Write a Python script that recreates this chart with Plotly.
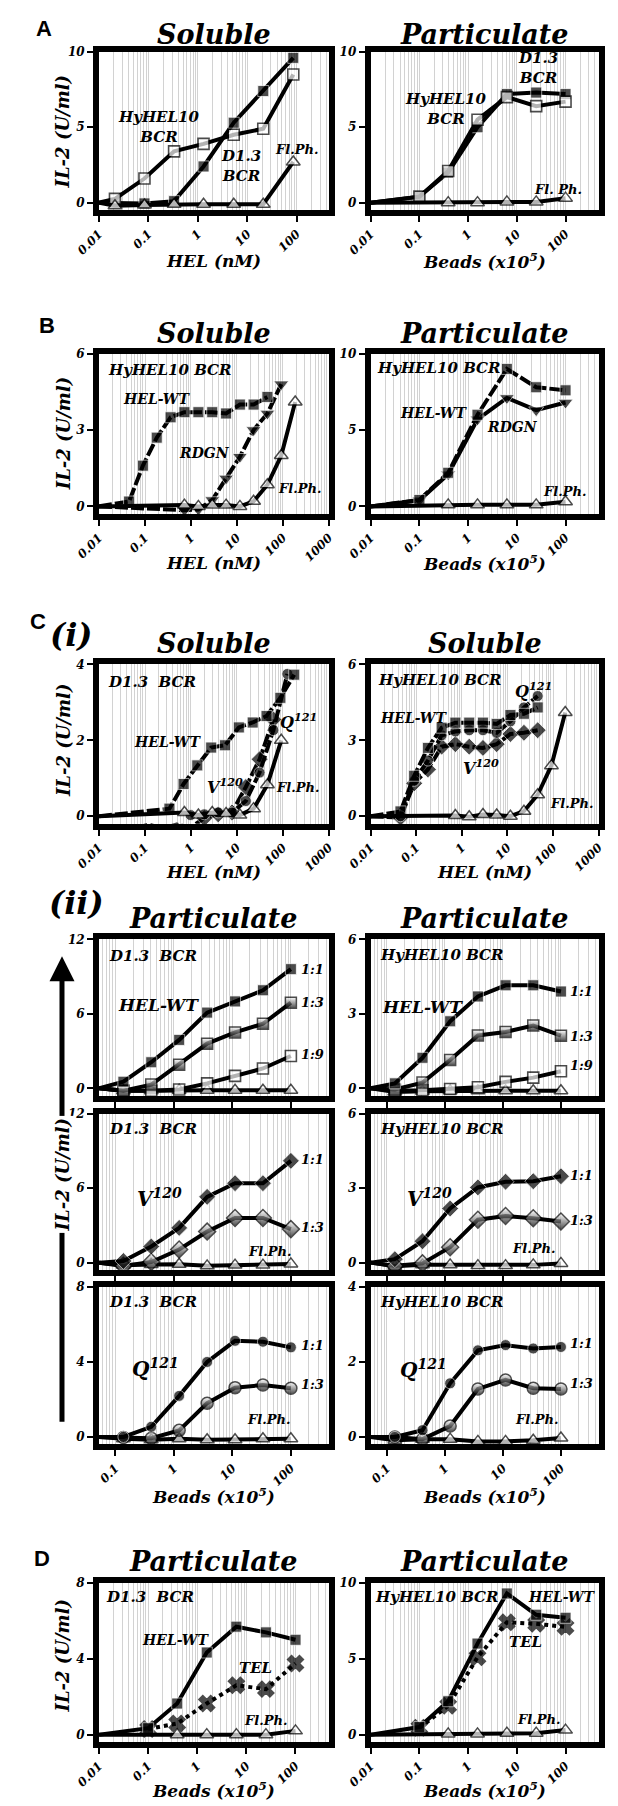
import numpy as np
import plotly.graph_objects as go

W, H = 618, 1806
SERIF = "DejaVu Serif"
SANS = "Liberation Sans"
GRID = "#d2d2d2"
BASE = 0.0  # unstimulated background (no antigen), drawn at the axis' left edge

# ===================== DATA =====================
# ---- A : soluble HEL (nM), 4-fold dilutions ----
A_SOL_HEL = [0.021, 0.083, 0.33, 1.3, 5.3, 21, 85]
A_SOL_D13 = [0.0, -0.05, 0.1, 2.4, 5.3, 7.4, 9.6]
A_SOL_HY10 = [0.25, 1.6, 3.4, 3.9, 4.5, 4.9, 8.5]
A_SOL_FLPH = [-0.2, -0.15, -0.1, -0.1, -0.1, -0.1, 2.7]
# ---- beads (x10^5), 4-fold dilutions ----
BEADS_4X = [0.1, 0.39, 1.56, 6.25, 25, 100]
BEADS_4X_FL = [0.39, 1.56, 6.25, 25, 100]
A_PAR_D13 = [0.4, 2.0, 5.0, 7.2, 7.3, 7.2]
A_PAR_HY10 = [0.4, 2.1, 5.5, 7.0, 6.4, 6.7]
A_PAR_FLPH = [0.0, 0.0, 0.05, 0.05, 0.3]
# ---- B : HyHEL10 BCR ----
HEL_2X_WT = [0.045, 0.09, 0.18, 0.36, 0.72, 1.45, 2.9, 5.8, 11.6, 23, 46]
HEL_2X_RDGN = [0.72, 1.45, 2.9, 5.8, 11.6, 23, 46, 92]
HEL_2X_FL = [0.72, 1.45, 2.9, 5.8, 11.6, 23, 46, 92, 185]
B_SOL_WT = [0.19, 1.6, 2.7, 3.5, 3.7, 3.7, 3.7, 3.65, 4.0, 4.0, 4.3]
B_SOL_RDGN = [-0.15, -0.12, 0.25, 1.1, 1.95, 3.0, 3.65, 4.8]
B_SOL_FLPH = [0.05, 0.0, 0.05, 0.05, 0.0, 0.2, 0.85, 2.0, 4.1]
B_PAR_WT = [0.42, 2.2, 6.0, 9.0, 7.8, 7.6]
B_PAR_RDGN = [0.4, 2.1, 5.7, 7.1, 6.3, 6.8]
B_PAR_FLPH = [0.1, 0.1, 0.1, 0.1, 0.3]
# ---- C(i) : soluble ----
HEL_2X_WT_D13 = [0.34, 0.69, 1.37, 2.75, 5.5, 11, 22, 44, 88, 176]
HEL_2X_Q_D13 = [0.98, 1.95, 3.9, 7.8, 15.6, 31, 62, 125]
HEL_2X_V_D13 = [0.06, 0.12, 0.24, 0.49, 0.98, 1.95, 3.9, 7.8, 15.6, 31, 62]
CI_D13_WT = [0.2, 0.85, 1.34, 1.81, 1.87, 2.34, 2.47, 2.64, 3.12, 3.73]
CI_D13_Q121 = [0.03, 0.05, 0.1, 0.1, 0.4, 1.15, 2.27, 3.75]
CI_D13_V120 = [-0.32, -0.22, -0.32, -0.22, -0.3, -0.05, 0.05, 0.1, 0.77, 1.5, 2.55]
CI_D13_FLPH = [0.1, 0.03, 0.1, 0.07, 0.03, 0.2, 0.83, 2.0]
CI_HY_WT = [0.19, 1.6, 2.7, 3.5, 3.7, 3.7, 3.7, 3.65, 4.0, 4.05, 4.3]
CI_HY_Q121 = [0.0, 1.4, 2.2, 3.2, 3.35, 3.4, 3.4, 3.3, 3.75, 4.3, 4.75]
CI_HY_V120 = [-0.05, 1.3, 1.85, 2.75, 2.85, 2.75, 2.7, 2.85, 3.25, 3.3, 3.4]
CI_HY_FLPH = [0.03, -0.02, 0.07, 0.05, 0.0, 0.2, 0.85, 2.0, 4.1]
# ---- C(ii) : particulate, 3-fold bead dilutions ----
BEADS_3X = [0.137, 0.41, 1.23, 3.7, 11.1, 33.3, 100]
WT_D13_11 = [0.53, 2.1, 3.9, 6.1, 7.0, 7.9, 9.6]
WT_D13_13 = [-0.2, 0.3, 1.9, 3.6, 4.5, 5.2, 6.9]
WT_D13_19 = [-0.2, -0.2, -0.1, 0.4, 1.0, 1.6, 2.6]
WT_D13_FL = [-0.2, -0.2, -0.15, -0.15, -0.15, -0.15, -0.15]
WT_HY_11 = [0.2, 1.23, 2.7, 3.7, 4.15, 4.15, 3.9]
WT_HY_13 = [-0.05, 0.23, 1.14, 2.13, 2.27, 2.53, 2.12]
WT_HY_19 = [-0.1, -0.08, -0.03, 0.04, 0.26, 0.43, 0.69]
WT_HY_FL = [-0.15, -0.12, -0.1, -0.1, -0.1, -0.1, -0.1]
V_D13_11 = [0.13, 1.3, 2.8, 5.3, 6.4, 6.4, 8.2]
V_D13_13 = [-0.26, 0.05, 1.06, 2.5, 3.6, 3.6, 2.7]
V_D13_FL = [-0.2, -0.15, -0.13, -0.26, -0.2, -0.2, -0.1]
V_HY_11 = [0.14, 0.86, 2.18, 3.03, 3.26, 3.28, 3.48]
V_HY_13 = [-0.13, -0.03, 0.62, 1.73, 1.88, 1.79, 1.66]
V_HY_FL = [-0.15, -0.09, -0.09, -0.12, -0.12, -0.09, -0.03]
Q_D13_11 = [0.0, 0.54, 2.19, 4.0, 5.13, 5.08, 4.78]
Q_D13_13 = [-0.03, -0.07, 0.35, 1.8, 2.63, 2.77, 2.6]
Q_D13_FL = [-0.1, -0.15, -0.1, -0.15, -0.15, -0.1, -0.1]
Q_HY_11 = [0.0, 0.18, 1.43, 2.31, 2.45, 2.36, 2.4]
Q_HY_13 = [0.0, -0.06, 0.29, 1.28, 1.52, 1.3, 1.28]
Q_HY_FL = [-0.09, -0.06, -0.06, -0.12, -0.12, -0.09, -0.03]
# ---- D : TEL ----
D_D13_WT = [0.34, 1.64, 4.33, 5.69, 5.39, 5.0]
D_D13_TEL = [0.3, 0.59, 1.64, 2.6, 2.4, 3.75]
D_D13_FL = [0.0, 0.0, 0.0, 0.0, 0.2]
D_HY_WT = [0.5, 2.2, 6.0, 9.3, 7.9, 7.7]
D_HY_TEL = [0.45, 1.9, 5.1, 7.4, 7.3, 7.1]
D_HY_FL = [0.05, 0.05, 0.1, 0.1, 0.3]

TICKS_4 = [0.1, 1, 10, 100]
TICKS_5 = [0.01, 0.1, 1, 10, 100]
TICKS_6 = [0.01, 0.1, 1, 10, 100, 1000]
TICK_TEXT = {0.01: "0.01", 0.1: "0.1", 1: "1", 10: "10", 100: "100", 1000: "1000"}

# ===================== LAYOUT =====================
fig = go.Figure()
layout = dict(width=W, height=H, margin=dict(l=0, r=0, t=0, b=0),
              paper_bgcolor="white", plot_bgcolor="white", showlegend=False)
annotations = []

COLS = {"L": (79, 321), "R": (365, 605)}
ROWS = {"A": (45, 204), "B": (348, 509), "Ci": (660, 820), "C1": (936, 1093),
        "C2": (1111, 1268), "C3": (1285, 1443), "D": (1582, 1742)}
XR = {}


def tf(size):
    return dict(family=SERIF, size=size, color="black", weight="bold", style="italic")


def sfx(k):
    return "" if k == 1 else str(k)


def make_panel(k, col, row, xr, xticks, ymax, yticks, xlabels=True):
    s = sfx(k)
    x0, x1 = COLS[col]
    y0, y1 = ROWS[row]
    XR[k] = xr
    minor = [m * 10.0 ** d for d in range(-3, 4) for m in range(2, 10)
             if xr[0] < np.log10(m * 10.0 ** d) < xr[1]]
    layout["xaxis" + s] = dict(
        type="log", domain=[x0 / W, x1 / W], range=xr, anchor="y" + s,
        showline=True, mirror=True, linewidth=6, linecolor="black",
        ticks="outside", ticklen=6, tickwidth=2, tickcolor="black",
        tickmode="array", tickvals=xticks, ticktext=[TICK_TEXT[v] for v in xticks],
        tickangle=-45, showticklabels=xlabels, tickfont=tf(12),
        showgrid=True, gridcolor=GRID, gridwidth=1,
        minor=dict(tickmode="array", tickvals=minor, showgrid=True,
                   gridcolor=GRID, gridwidth=1, ticks=""),
        zeroline=False, fixedrange=True)
    layout["yaxis" + s] = dict(
        domain=[1 - y1 / H, 1 - y0 / H], range=[-0.05 * ymax, ymax], anchor="x" + s,
        showline=True, mirror=True, linewidth=6, linecolor="black",
        ticks="outside", ticklen=6, tickwidth=2, tickcolor="black",
        tickmode="array", tickvals=yticks, tickfont=tf(12),
        showgrid=False, zeroline=False, fixedrange=True)


CR = [-1.28, 2.65]
make_panel(1, "L", "A", [-2, 2.65], TICKS_5, 10, [0, 5, 10])
make_panel(2, "R", "A", [-2, 2.68], TICKS_5, 10, [0, 5, 10])
make_panel(3, "L", "B", [-2, 3], TICKS_6, 6, [0, 3, 6])
make_panel(4, "R", "B", [-2, 2.68], TICKS_5, 10, [0, 5, 10])
make_panel(5, "L", "Ci", [-2, 3], TICKS_6, 4, [0, 2, 4])
make_panel(6, "R", "Ci", [-2, 3], TICKS_6, 6, [0, 3, 6])
make_panel(7, "L", "C1", CR, TICKS_4, 12, [0, 6, 12], False)
make_panel(8, "R", "C1", CR, TICKS_4, 6, [0, 3, 6], False)
make_panel(9, "L", "C2", CR, TICKS_4, 12, [0, 6, 12], False)
make_panel(10, "R", "C2", CR, TICKS_4, 6, [0, 3, 6], False)
make_panel(11, "L", "C3", CR, TICKS_4, 8, [0, 4, 8])
make_panel(12, "R", "C3", CR, TICKS_4, 4, [0, 2, 4])
make_panel(13, "L", "D", [-2, 2.68], TICKS_5, 8, [0, 4, 8])
make_panel(14, "R", "D", [-2, 2.68], TICKS_5, 10, [0, 5, 10])

# ---- marker styles ----
FILLED_SQ = dict(symbol="square", color="black", line=dict(color="white", width=0.8), size=11)
OPEN_SQ = dict(symbol="square", color="white", line=dict(color="black", width=1.6), size=11)
HALF_SQ = dict(symbol="square", color="white", line=dict(color="black", width=1.5), size=11,
               gradient=dict(type="vertical", color="black"))
OPEN_TRI = dict(symbol="triangle-up", color="white", line=dict(color="black", width=1.5), size=12)
INV_TRI = dict(symbol="triangle-down", color="black", line=dict(color="white", width=0.8), size=13)
DIAMOND = dict(symbol="diamond", color="black", line=dict(color="white", width=0.8), size=13)
HALF_DIA = dict(symbol="diamond", color="white", line=dict(color="black", width=1.5), size=13,
                gradient=dict(type="vertical", color="black"))
CIRCLE = dict(symbol="circle", color="black", line=dict(color="white", width=0.8), size=11)
HALF_CIR = dict(symbol="circle", color="white", line=dict(color="black", width=1.5), size=12,
                gradient=dict(type="vertical", color="black"))
CROSS = dict(symbol="x", color="black", line=dict(color="black", width=1.5), size=14)
DASH = "13px,3px"


def add(k, x, y, mk, dash="solid", lead=True, lw=4):
    s = sfx(k)
    xs, ys = list(x), list(y)
    sizes = [mk["size"]] * len(xs)
    if lead:
        xs = [10 ** XR[k][0]] + xs
        ys = [BASE] + ys
        sizes = [0] + sizes
    m = dict(mk)
    m["size"] = sizes
    fig.add_trace(go.Scatter(x=xs, y=ys, xaxis="x" + s, yaxis="y" + s, mode="lines+markers",
                             line=dict(color="black", width=lw, dash=dash), marker=m,
                             cliponaxis=False, hoverinfo="skip"))


# A
add(1, A_SOL_HEL, A_SOL_D13, FILLED_SQ)
add(1, A_SOL_HEL, A_SOL_HY10, OPEN_SQ)
add(1, A_SOL_HEL, A_SOL_FLPH, OPEN_TRI)
add(2, BEADS_4X, A_PAR_D13, FILLED_SQ)
add(2, BEADS_4X, A_PAR_HY10, OPEN_SQ)
add(2, BEADS_4X_FL, A_PAR_FLPH, OPEN_TRI)
# B
add(3, HEL_2X_RDGN, B_SOL_RDGN, INV_TRI, DASH)
add(3, HEL_2X_WT, B_SOL_WT, FILLED_SQ, DASH)
add(3, HEL_2X_FL, B_SOL_FLPH, OPEN_TRI)
add(4, BEADS_4X, B_PAR_RDGN, INV_TRI)
add(4, BEADS_4X, B_PAR_WT, FILLED_SQ, DASH)
add(4, BEADS_4X_FL, B_PAR_FLPH, OPEN_TRI)
# C(i)
add(5, HEL_2X_V_D13, CI_D13_V120, DIAMOND, DASH, lead=False)
add(5, HEL_2X_Q_D13, CI_D13_Q121, CIRCLE, DASH, lead=False)
add(5, HEL_2X_WT_D13, CI_D13_WT, FILLED_SQ, DASH)
add(5, HEL_2X_FL, CI_D13_FLPH, OPEN_TRI)
add(6, HEL_2X_WT, CI_HY_V120, DIAMOND, DASH)
add(6, HEL_2X_WT, CI_HY_Q121, CIRCLE, DASH)
add(6, HEL_2X_WT, CI_HY_WT, FILLED_SQ, DASH)
add(6, HEL_2X_FL, CI_HY_FLPH, OPEN_TRI)
# C(ii)
add(7, BEADS_3X, WT_D13_FL, OPEN_TRI)
add(7, BEADS_3X, WT_D13_19, OPEN_SQ)
add(7, BEADS_3X, WT_D13_13, HALF_SQ)
add(7, BEADS_3X, WT_D13_11, FILLED_SQ)
add(8, BEADS_3X, WT_HY_FL, OPEN_TRI)
add(8, BEADS_3X, WT_HY_19, OPEN_SQ)
add(8, BEADS_3X, WT_HY_13, HALF_SQ)
add(8, BEADS_3X, WT_HY_11, FILLED_SQ)
add(9, BEADS_3X, V_D13_FL, OPEN_TRI)
add(9, BEADS_3X, V_D13_13, HALF_DIA)
add(9, BEADS_3X, V_D13_11, DIAMOND)
add(10, BEADS_3X, V_HY_FL, OPEN_TRI)
add(10, BEADS_3X, V_HY_13, HALF_DIA)
add(10, BEADS_3X, V_HY_11, DIAMOND)
add(11, BEADS_3X, Q_D13_FL, OPEN_TRI)
add(11, BEADS_3X, Q_D13_13, HALF_CIR)
add(11, BEADS_3X, Q_D13_11, CIRCLE)
add(12, BEADS_3X, Q_HY_FL, OPEN_TRI)
add(12, BEADS_3X, Q_HY_13, HALF_CIR)
add(12, BEADS_3X, Q_HY_11, CIRCLE)
# D
add(13, BEADS_4X, D_D13_TEL, CROSS, "dot", lead=False)
add(13, BEADS_4X, D_D13_WT, FILLED_SQ)
add(13, BEADS_4X_FL, D_D13_FL, OPEN_TRI)
add(14, BEADS_4X, D_HY_TEL, CROSS, "dot", lead=False)
add(14, BEADS_4X, D_HY_WT, FILLED_SQ)
add(14, BEADS_4X_FL, D_HY_FL, OPEN_TRI)


# ---- text ----
def lab(k, xv, yv, text, size=15, xanchor="center"):
    s = sfx(k)
    annotations.append(dict(x=float(np.log10(xv)), y=yv, xref="x" + s, yref="y" + s, text=text,
                            showarrow=False, font=tf(size), xanchor=xanchor, yanchor="middle"))


def ptext(xpx, ypx, text, font, angle=0, bg="rgba(0,0,0,0)"):
    annotations.append(dict(x=xpx / W, y=1 - ypx / H, xref="paper", yref="paper", text=text,
                            showarrow=False, font=font, textangle=angle, xanchor="center",
                            yanchor="middle", bgcolor=bg))


NB = "\u00a0"
lab(1, 0.16, 5.0, "HyHEL10<br>BCR")
lab(1, 7.6, 2.4, "D1.3<br>BCR")
lab(1, 100, 3.5, "Fl.Ph.", 13)
lab(2, 27, 8.9, "D1.3<br>BCR")
lab(2, 0.35, 6.2, "HyHEL10<br>BCR")
lab(2, 70, 0.9, "Fl. Ph.", 13)

lab(3, 0.35, 5.36, "HyHEL10 BCR")
lab(3, 0.18, 4.2, "HEL-WT", 14)
lab(3, 2.0, 2.1, "RDGN", 14)
lab(3, 230, 0.72, "Fl.Ph.", 13)
lab(4, 0.25, 9.05, "HyHEL10 BCR")
lab(4, 0.2, 6.1, "HEL-WT", 14)
lab(4, 8.3, 5.2, "RDGN", 14)
lab(4, 96, 0.95, "Fl.Ph.", 13)

lab(5, 0.145, 3.55, "D1.3" + NB + NB + "BCR")
lab(5, 0.32, 1.96, "HEL-WT", 14)
lab(5, 218, 2.5, "Q<sup>121</sup>", 16)
lab(5, 5.4, 0.8, "V<sup>120</sup>", 16)
lab(5, 210, 0.75, "Fl.Ph.", 13)
lab(6, 0.33, 5.4, "HyHEL10 BCR")
lab(6, 38, 5.0, "Q<sup>121</sup>", 16)
lab(6, 0.09, 3.9, "HEL-WT", 14)
lab(6, 2.6, 1.95, "V<sup>120</sup>", 16)
lab(6, 250, 0.5, "Fl.Ph.", 13)

lab(7, 0.44, 10.7, "D1.3" + NB + NB + "BCR")
lab(7, 0.55, 6.7, "HEL-WT", 17)
lab(7, 235, 9.6, "1:1", 13)
lab(7, 235, 6.9, "1:3", 13)
lab(7, 235, 2.7, "1:9", 13)
lab(8, 0.9, 5.37, "HyHEL10 BCR")
lab(8, 0.41, 3.27, "HEL-WT", 17)
lab(8, 230, 3.9, "1:1", 13)
lab(8, 230, 2.1, "1:3", 13)
lab(8, 230, 0.9, "1:9", 13)

lab(9, 0.44, 10.8, "D1.3" + NB + NB + "BCR")
lab(9, 0.57, 5.2, "V<sup>120</sup>", 20)
lab(9, 235, 8.3, "1:1", 13)
lab(9, 235, 2.85, "1:3", 13)
lab(9, 43, 0.9, "Fl.Ph.", 13)
lab(10, 0.9, 5.4, "HyHEL10 BCR")
lab(10, 0.55, 2.6, "V<sup>120</sup>", 20)
lab(10, 230, 3.5, "1:1", 13)
lab(10, 230, 1.7, "1:3", 13)
lab(10, 33, 0.55, "Fl.Ph.", 13)

lab(11, 0.44, 7.2, "D1.3" + NB + NB + "BCR")
lab(11, 0.48, 3.7, "Q<sup>121</sup>", 20)
lab(11, 235, 4.9, "1:1", 13)
lab(11, 235, 2.8, "1:3", 13)
lab(11, 41, 0.95, "Fl.Ph.", 13)
lab(12, 0.9, 3.6, "HyHEL10 BCR")
lab(12, 0.42, 1.82, "Q<sup>121</sup>", 20)
lab(12, 230, 2.5, "1:1", 13)
lab(12, 230, 1.43, "1:3", 13)
lab(12, 38, 0.47, "Fl.Ph.", 13)

lab(13, 0.11, 7.25, "D1.3" + NB + NB + "BCR")
lab(13, 0.37, 5.0, "HEL-WT", 14)
lab(13, 15, 3.5, "TEL", 15)
lab(13, 25, 0.75, "Fl.Ph.", 13)
lab(14, 0.23, 9.05, "HyHEL10 BCR")
lab(14, 83, 9.05, "HEL-WT", 14)
lab(14, 15, 6.1, "TEL", 15)
lab(14, 28, 1.0, "Fl.Ph.", 13)

# panel letters and sub-labels
LETTER = dict(family=SANS, size=22, color="black", weight="bold")
ptext(21, 22, "A", LETTER)
ptext(24, 320, "B", LETTER)
ptext(15, 617, "C", LETTER)
ptext(19, 1558, "D", LETTER)
ptext(50, 630, "(i)", tf(32))
ptext(55, 899, "(ii)", tf(32))

# column titles
LX, RX = 200, 485
for y, lt, rt in [(28, "Soluble", "Particulate"), (328, "Soluble", "Particulate"),
                  (639, "Soluble", "Soluble"), (915, "Particulate", "Particulate"),
                  (1561, "Particulate", "Particulate")]:
    ptext(LX, y, lt, tf(27))
    ptext(RX, y, rt, tf(27))

# x-axis titles
BEADS = "Beads (x10<sup>5</sup>)"
for y, lt, rt in [(255, "HEL (nM)", BEADS), (558, "HEL (nM)", BEADS),
                  (868, "HEL (nM)", "HEL (nM)"), (1495, BEADS, BEADS), (1790, BEADS, BEADS)]:
    ptext(LX, y, lt, tf(17))
    ptext(RX, y, rt, tf(17))

# y-axis titles
for y in (125, 428, 736, 1655):
    ptext(41, y, "IL-2 (U/ml)", tf(18), angle=-90)

# C(ii) vertical arrow with shared y title
annotations.append(dict(x=40 / W, y=1 - 953 / H, xref="paper", yref="paper", ax=0, ay=467,
                        text="", showarrow=True, arrowhead=2, arrowsize=1, arrowwidth=5,
                        arrowcolor="black"))
ptext(41, 1172, "IL-2 (U/ml)", tf(18), angle=-90, bg="white")

layout["annotations"] = annotations
fig.update_layout(**layout)
fig.write_html("out.html",
               config={"displayModeBar": False, "staticPlot": True},
               post_script="document.body.style.margin='0px';"
                           "document.documentElement.style.overflow='hidden';")
